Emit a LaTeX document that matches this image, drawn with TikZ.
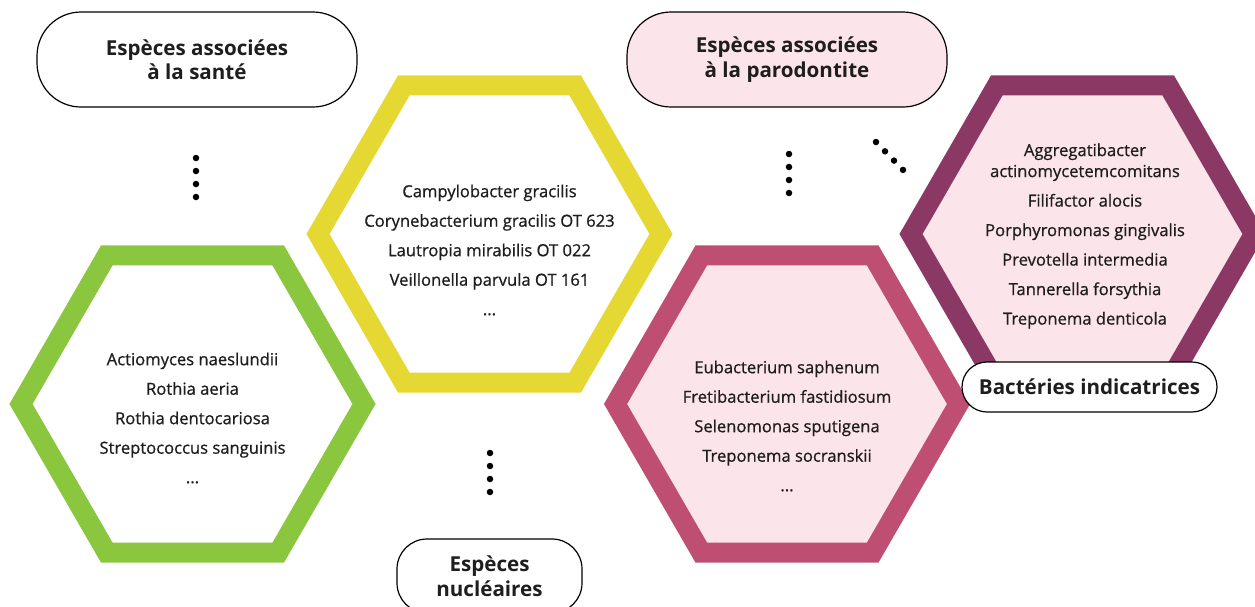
\documentclass[tikz,border=0pt]{standalone}
\usepackage{fontspec}
\setmainfont{Open Sans}
\newfontfamily\semib[FakeBold=0.8]{Open Sans}
\usetikzlibrary{shapes.geometric,positioning}
\definecolor{hexgreen}{RGB}{139,198,63}
\definecolor{hexyellow}{RGB}{230,216,51}
\definecolor{hexpink}{RGB}{190,79,114}
\definecolor{hexpurple}{RGB}{139,56,100}
\definecolor{softpink}{RGB}{252,228,235}
\definecolor{inkgray}{RGB}{30,30,30}
\begin{document}
\begin{tikzpicture}[x=1pt,y=-1pt,
    hexa/.style={regular polygon, regular polygon sides=6, minimum size=343pt,
                 inner sep=0pt, line width=20pt, draw=#1},
    species/.style={align=center, text=inkgray, font=\semib\fontsize{16.6}{29.5}\selectfont},
    tag/.style={draw=black, line width=1.2pt, align=center, text=inkgray,
                font=\bfseries\fontsize{20.6}{24.5}\selectfont, inner sep=0pt},
    dot/.style={circle, fill=black, inner sep=0pt, minimum size=6.5pt}]
  \useasboundingbox (0,0) rectangle (1255,606);
  % hexagons
  \node[hexa=hexgreen, fill=white] (healthy) at (192.5,404) {};
  \node[hexa=hexyellow, fill=white] (core) at (489.5,234) {};
  \node[hexa=hexpink, fill=softpink] (perio) at (787,404) {};
  \node[hexa=hexpurple, fill=softpink] (marker) at (1082.5,234) {};
  % species lists
  \node[species] (healthylist) at (192.5,418)
       {Actiomyces naeslundii\\ Rothia aeria\\ Rothia dentocariosa\\ Streptococcus sanguinis\\ ...};
  \node[species] (corelist) at (489.5,250)
       {Campylobacter gracilis\\ Corynebacterium gracilis OT 623\\ Lautropia mirabilis OT 022\\
        Veillonella parvula OT 161\\ ...};
  \node[species] (periolist) at (787,426)
       {Eubacterium saphenum\\ Fretibacterium fastidiosum\\ Selenomonas sputigena\\
        Treponema socranskii\\ ...};
  \node[species] (markerlist) at (1085,236)
       {Aggregatibacter\\[-8.5pt] actinomycetemcomitans\\ Filifactor alocis\\ Porphyromonas gingivalis\\
        Prevotella intermedia\\ Tannerella forsythia\\ Treponema denticola};
  % labels
  \node[tag, fill=white, minimum width=320pt, minimum height=95pt, rounded corners=44pt]
       (healthytag) at (197,59.5) {Espèces associées\\ à la santé};
  \node[tag, fill=softpink, minimum width=320pt, minimum height=95pt, rounded corners=44pt]
       (periotag) at (787,59.5) {Espèces associées\\ à la parodontite};
  \node[tag, fill=white, minimum width=185pt, minimum height=74pt, rounded corners=30pt]
       (coretag) at (489.5,576) {Espèces\\ nucléaires};
  \node[tag, fill=white, minimum width=255pt, minimum height=50pt, rounded corners=25pt]
       (markertag) at (1089.5,387) {Bactéries indicatrices};
  % dotted links
  \foreach \k in {0,...,3}{
    \node[dot] (hd\k) at (196,158+13*\k) {};
    \node[dot] (cd\k) at (490,453+13*\k) {};
    \node[dot] (pd\k) at (789,154+13*\k) {};
    \node[dot] (md\k) at (876+9*\k,142+9.3*\k) {};}
\end{tikzpicture}
\end{document}
